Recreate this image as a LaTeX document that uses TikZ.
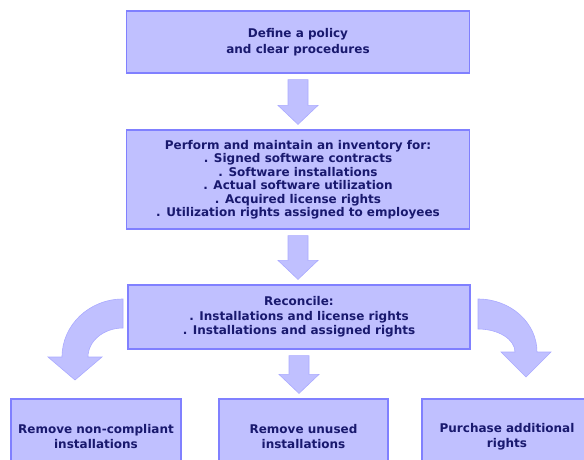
\documentclass[tikz,border=0pt]{standalone}
\usepackage{fontspec}
\setmainfont{DejaVu Sans}
\usetikzlibrary{calc}

\definecolor{boxfill}{RGB}{192,192,255}
\definecolor{boxline}{RGB}{128,128,255}
\definecolor{arrowline}{RGB}{170,170,255}
\definecolor{textblue}{RGB}{25,25,110}

\tikzset{
  stepbox/.style={draw=boxline, line width=1.2pt, fill=boxfill, align=center,
    text=textblue, inner sep=0pt, font=\bfseries\fontsize{12}{13.5}\selectfont},
  bigarrow/.style={fill=boxfill, draw=arrowline, line width=0.6pt},
}

% straight block arrow between two boxes
\newcommand{\blockdown}[2]{%
  \draw[bigarrow] ($(#1.south)+(-10,6)$) -- ($(#1.south)+(10,6)$)
    -- ($(#1.south |- #2.north)+(10,-24)$) -- ($(#1.south |- #2.north)+(20,-24)$)
    -- ($(#1.south |- #2.north)+(0,-5)$)
    -- ($(#1.south |- #2.north)+(-20,-24)$) -- ($(#1.south |- #2.north)+(-10,-24)$)
    -- cycle;}

\begin{document}
\begin{tikzpicture}[x=1pt, y=-1pt]

  \useasboundingbox (0,0) rectangle (584,459);

  % Policy
  \node[stepbox, minimum width=343, minimum height=62,
    font=\bfseries\fontsize{12}{15.5}\selectfont] (policy) at (298,42)
    {Define a policy\\and clear procedures};

  % Inventory
  \node[stepbox, minimum width=343, minimum height=99] (inventory) at (298,179.5)
    {Perform and maintain an inventory for:\\
     . Signed software contracts\\
     . Software installations\\
     . Actual software utilization\\
     . Acquired license rights\\
     . Utilization rights assigned to employees};

  % Reconcile
  \node[stepbox, minimum width=342, minimum height=64,
    font=\bfseries\fontsize{12}{14.5}\selectfont] (reconcile) at (299,317)
    {Reconcile:\\
     . Installations and license rights\\
     . Installations and assigned rights};

  % Actions
  \node[stepbox, minimum width=170, minimum height=76,
    font=\bfseries\fontsize{12}{15}\selectfont] (removebad) at (96,437)
    {Remove non-compliant\\installations};
  \node[stepbox, minimum width=169, minimum height=76,
    font=\bfseries\fontsize{12}{15}\selectfont] (removeunused) at (303.5,437)
    {Remove unused\\installations};
  \node[stepbox, minimum width=170, minimum height=76,
    font=\bfseries\fontsize{12}{15}\selectfont] (purchase) at (507,437)
    {Purchase additional\\rights};

  % Straight arrows
  \blockdown{policy}{inventory}
  \blockdown{inventory}{reconcile}
  \blockdown{reconcile}{removeunused}

  % Curved arrow to the left
  \draw[bigarrow] (123,299) arc[start angle=270, end angle=180, x radius=61, y radius=58]
    -- ++(-14,0) -- (75,380) -- (102,357) -- (88,357)
    arc[start angle=180, end angle=270, x radius=35, y radius=29] -- cycle;

  % Curved arrow to the right
  \draw[bigarrow] (478,299) arc[start angle=270, end angle=360, x radius=59, y radius=53]
    -- ++(14,0) -- (526,377) -- (501,352) -- (515,352)
    arc[start angle=0, end angle=-90, x radius=37, y radius=23] -- cycle;

\end{tikzpicture}
\end{document}
